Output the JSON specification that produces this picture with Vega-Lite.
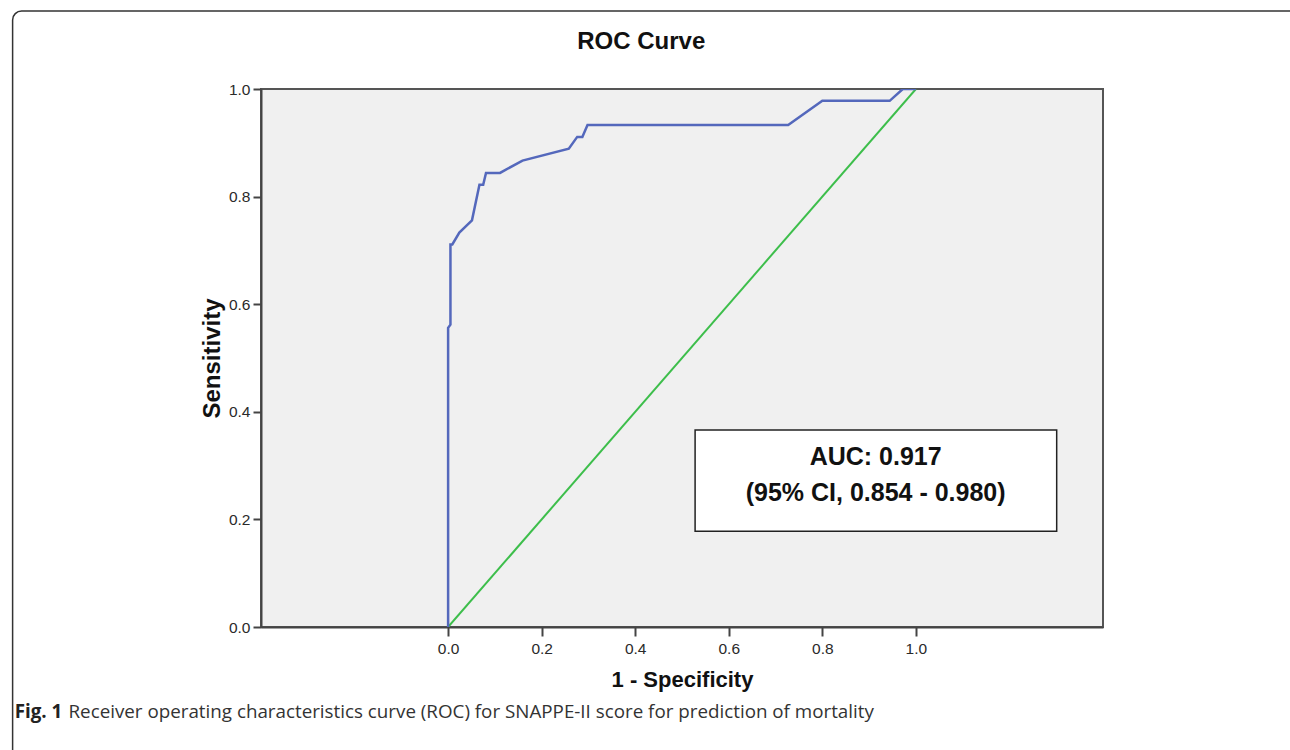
{
  "$schema": "https://vega.github.io/schema/vega-lite/v6.json",
  "autosize": "none",
  "width": 842,
  "height": 538,
  "padding": {"left": 261, "top": 89, "right": 187, "bottom": 123},
  "background": "white",
  "config": {
    "view": {"fill": "#F0F0F0", "stroke": "#555", "strokeWidth": 2},
    "axis": {
      "labelFont": "Liberation Sans",
      "labelFontSize": 15.5,
      "labelColor": "#2a2a2a",
      "titleFont": "Liberation Sans",
      "titleFontSize": 22,
      "titleFontWeight": "bold",
      "titleColor": "#111",
      "domainColor": "#444",
      "domainWidth": 2,
      "tickColor": "#444",
      "tickWidth": 2,
      "grid": false
    }
  },
  "datasets": {
    "frame": [{"x": -0.931, "x2": 1.9, "y": 1.145, "y2": -0.5}],
    "diag": [{"fpr": 0, "tpr": 0}, {"fpr": 1, "tpr": 1}],
    "roc": [
      {"fpr": 0, "tpr": 0},
      {"fpr": 0, "tpr": 0.556},
      {"fpr": 0.005, "tpr": 0.562},
      {"fpr": 0.005, "tpr": 0.711},
      {"fpr": 0.009, "tpr": 0.711},
      {"fpr": 0.024, "tpr": 0.733},
      {"fpr": 0.051, "tpr": 0.756},
      {"fpr": 0.067, "tpr": 0.822},
      {"fpr": 0.075, "tpr": 0.822},
      {"fpr": 0.081, "tpr": 0.844},
      {"fpr": 0.111, "tpr": 0.844},
      {"fpr": 0.159, "tpr": 0.867},
      {"fpr": 0.258, "tpr": 0.889},
      {"fpr": 0.276, "tpr": 0.911},
      {"fpr": 0.287, "tpr": 0.911},
      {"fpr": 0.298, "tpr": 0.933},
      {"fpr": 0.727, "tpr": 0.933},
      {"fpr": 0.8, "tpr": 0.978},
      {"fpr": 0.944, "tpr": 0.978},
      {"fpr": 0.972, "tpr": 1.0},
      {"fpr": 1.0, "tpr": 1.0}
    ],
    "box": [{"x": 0.528, "x2": 1.301, "y": 0.366, "y2": 0.178}],
    "boxtext": [
      {"x": 0.914, "y": 0.316, "label": "AUC: 0.917"},
      {"x": 0.914, "y": 0.249, "label": "(95% CI, 0.854 - 0.980)"}
    ],
    "charttitle": [{"x": 0.413, "y": 1.087, "label": "ROC Curve"}],
    "capbold": [{"x": -0.9265, "y": -0.158, "label": "Fig. 1"}],
    "caprest": [{"x": -0.8115, "y": -0.158, "label": "Receiver operating characteristics curve (ROC) for SNAPPE-II score for prediction of mortality"}]
  },
  "layer": [
    {
      "data": {"name": "frame"},
      "mark": {"type": "rect", "fill": null, "stroke": "#333", "strokeWidth": 1.5, "cornerRadius": 9},
      "encoding": {
        "x": {"field": "x", "type": "quantitative", "scale": {"domain": [-0.4, 1.4], "nice": false, "zero": false},
          "axis": {"values": [0, 0.2, 0.4, 0.6, 0.8, 1.0], "format": ".1f", "title": "1 - Specificity", "tickSize": 9, "labelPadding": 5, "titlePadding": 13}},
        "x2": {"field": "x2"},
        "y": {"field": "y", "type": "quantitative", "scale": {"domain": [0, 1], "nice": false, "zero": false},
          "axis": {"values": [0, 0.2, 0.4, 0.6, 0.8, 1.0], "format": ".1f", "title": "Sensitivity", "titleFontSize": 24, "tickSize": 8, "labelPadding": 3, "titlePadding": 4}},
        "y2": {"field": "y2"}
      }
    },
    {
      "data": {"name": "diag"},
      "mark": {"type": "line", "color": "#3DBE4B", "strokeWidth": 2, "clip": true},
      "encoding": {
        "x": {"field": "fpr", "type": "quantitative"},
        "y": {"field": "tpr", "type": "quantitative"}
      }
    },
    {
      "data": {"name": "roc"},
      "mark": {"type": "line", "color": "#5468BC", "strokeWidth": 2.5, "clip": true},
      "encoding": {
        "x": {"field": "fpr", "type": "quantitative"},
        "y": {"field": "tpr", "type": "quantitative"},
        "order": {"field": "fpr", "type": "quantitative"}
      }
    },
    {
      "data": {"name": "box"},
      "mark": {"type": "rect", "fill": "white", "stroke": "#222", "strokeWidth": 1.5},
      "encoding": {
        "x": {"field": "x", "type": "quantitative"},
        "x2": {"field": "x2"},
        "y": {"field": "y", "type": "quantitative"},
        "y2": {"field": "y2"}
      }
    },
    {
      "data": {"name": "boxtext"},
      "mark": {"type": "text", "font": "Liberation Sans", "fontSize": 25, "fontWeight": "bold", "color": "#111", "align": "center", "baseline": "middle"},
      "encoding": {
        "x": {"field": "x", "type": "quantitative"},
        "y": {"field": "y", "type": "quantitative"},
        "text": {"field": "label"}
      }
    },
    {
      "data": {"name": "charttitle"},
      "mark": {"type": "text", "font": "Liberation Sans", "fontSize": 24, "fontWeight": "bold", "color": "#111", "align": "center", "baseline": "middle"},
      "encoding": {
        "x": {"field": "x", "type": "quantitative"},
        "y": {"field": "y", "type": "quantitative"},
        "text": {"field": "label"}
      }
    },
    {
      "data": {"name": "capbold"},
      "mark": {"type": "text", "font": "Open Sans", "fontSize": 18.8, "fontWeight": "bold", "color": "#222", "align": "left", "baseline": "middle"},
      "encoding": {
        "x": {"field": "x", "type": "quantitative"},
        "y": {"field": "y", "type": "quantitative"},
        "text": {"field": "label"}
      }
    },
    {
      "data": {"name": "caprest"},
      "mark": {"type": "text", "font": "Open Sans", "fontSize": 18.8, "color": "#333", "align": "left", "baseline": "middle"},
      "encoding": {
        "x": {"field": "x", "type": "quantitative"},
        "y": {"field": "y", "type": "quantitative"},
        "text": {"field": "label"}
      }
    }
  ]
}
